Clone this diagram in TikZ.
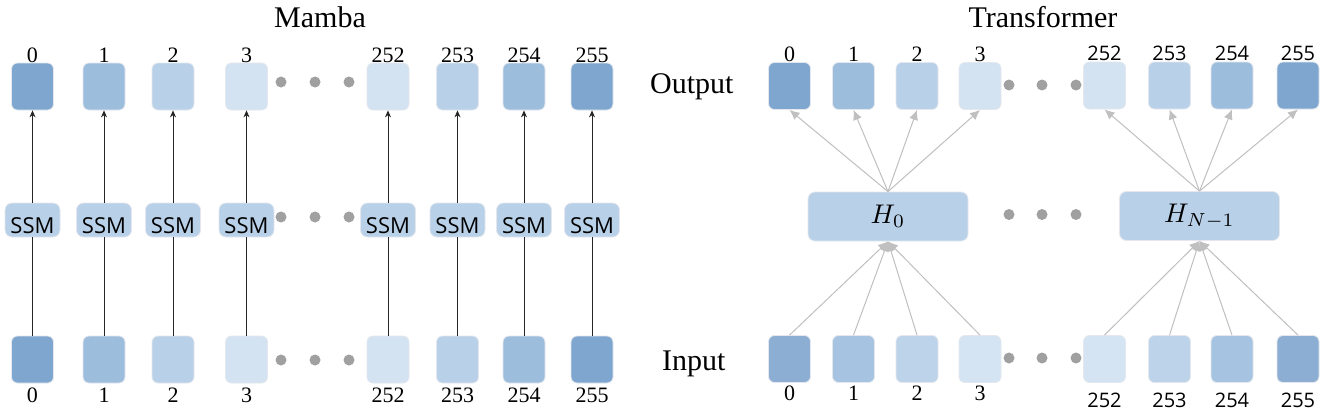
\documentclass[tikz,border=0pt]{standalone}
\usepackage{graphicx}
\usepackage{fontspec}
\setmainfont{Liberation Serif}
\newfontfamily\sansf{Open Sans}
\usetikzlibrary{arrows.meta}
\definecolor{c0}{HTML}{7FA6CF}
\definecolor{c1}{HTML}{9DBDDC}
\definecolor{c2}{HTML}{B8D0E8}
\definecolor{c3}{HTML}{D3E3F2}
\definecolor{d0}{HTML}{8DAED3}
\definecolor{d1}{HTML}{A6C4E1}
\definecolor{d2}{HTML}{BCD3EA}
\definecolor{d3}{HTML}{D4E4F2}
\definecolor{dotgray}{HTML}{A0A0A0}
\definecolor{arrgray}{HTML}{C0C0C0}
\definecolor{edgec}{HTML}{E4E8EE}
\begin{document}
\begin{tikzpicture}[x=1pt,y=-1pt,
  sq/.style={rectangle, rounded corners=6pt, minimum width=42pt, minimum height=47pt, draw=edgec, line width=0.8pt, inner sep=0pt},
  ssmbox/.style={rectangle, rounded corners=7pt, minimum width=55pt, minimum height=34pt, fill=c2, draw=edgec, line width=0.8pt, inner sep=0pt, text height=26pt, text depth=0pt, font=\sansf\fontsize{22}{22}\selectfont},
  hbox/.style={rectangle, rounded corners=7pt, minimum width=160pt, minimum height=49pt, fill=c2, draw=edgec, line width=0.8pt, inner sep=0pt},
  num/.style={font=\fontsize{22}{22}\selectfont, anchor=base, inner sep=0pt},
  snum/.style={font=\sansf\fontsize{20}{20}\selectfont, anchor=base, inner sep=0pt},
  title/.style={font=\fontsize{30}{30}\selectfont, anchor=base, inner sep=0pt},
  side/.style={font=\fontsize{30}{30}\selectfont, anchor=base west, inner sep=0pt},
  dot/.style={circle, fill=dotgray, minimum size=11pt, inner sep=0pt},
  mline/.style={draw=black!85, line width=0.8pt},
  marr/.style={draw=black!85, line width=0.8pt, -{Stealth[length=7pt,width=6pt]}},
  tarr/.style={draw=arrgray, line width=1pt, -{Latex[length=10pt,width=9pt]}},
]
\useasboundingbox[fill=white] (0,0) rectangle (1325,410);

% titles and side labels
\node[title] (tm) at (320,27) {Mamba};
\node[title] (tt) at (1043,27) {Transformer};
\node[side] (lout) at (650,93) {Output};
\node[side] (lin) at (662,370) {Input};

% Mamba
\foreach \i/\x/\c in {0/32.5/c0, 1/104/c1, 2/173/c2, 3/246.5/c3, 252/388/c3, 253/457.5/c2, 254/524/c1, 255/592/c0} {
  \node[sq, fill=\c] (mo\i) at (\x,86.5) {};
  \node[sq, fill=\c] (mi\i) at (\x,359.5) {};
  \node[ssmbox] (ms\i) at (\x,220) {SSM};
  \node[num] (mot\i) at (\x,62) {\i};
  \node[num] (mit\i) at (\x,402) {\i};
  \draw[mline] (mi\i.north) -- (ms\i.south);
  \draw[marr] (ms\i.north) -- (mo\i.south);
}
\foreach \k/\x in {1/281,2/315,3/349} {
  \node[dot] (mdo\k) at (\x,82) {};
  \node[dot] (mds\k) at (\x,217) {};
  \node[dot] (mdi\k) at (\x,360) {};
}

% Transformer
\node[hbox] (h0) at (888,216.5) {\scalebox{2.7}{$H_0$}};
\node[hbox] (h1) at (1199.5,216) {\scalebox{2.7}{$H_{N-1}$}};
\foreach \i/\x/\c/\d in {0/789.5/c0/d0, 1/853.5/c1/d1, 2/917/c2/d2, 3/980/c3/d3} {
  \node[sq, fill=\c] (to\i) at (\x,86) {};
  \node[sq, fill=\d] (ti\i) at (\x,359) {};
  \node[num] (tot\i) at (\x,61.5) {\i};
  \node[num] (tit\i) at (\x,400) {\i};
  \draw[tarr] (h0.north) -- (to\i.south);
  \draw[tarr] (ti\i.north) -- (h0.south);
}
\foreach \i/\x/\c/\d in {252/1104.5/c3/d3, 253/1169.5/c2/d2, 254/1232/c1/d1, 255/1298/c0/d0} {
  \node[sq, fill=\c] (to\i) at (\x,85.5) {};
  \node[sq, fill=\d] (ti\i) at (\x,359) {};
  \node[snum] (tot\i) at (\x,60) {\i};
  \node[snum] (tit\i) at (\x,407) {\i};
  \draw[tarr] (h1.north) -- (to\i.south);
  \draw[tarr] (ti\i.north) -- (h1.south);
}
\foreach \k/\x in {1/1009,2/1042,3/1076} {
  \node[dot] (tdo\k) at (\x,85) {};
  \node[dot] (tds\k) at (\x,214.5) {};
  \node[dot] (tdi\k) at (\x,358) {};
}
\end{tikzpicture}
\end{document}
